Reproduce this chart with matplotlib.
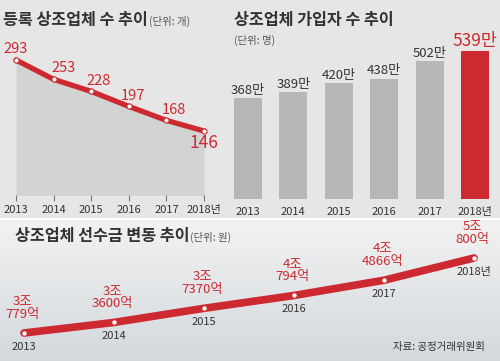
import numpy as np
import matplotlib
matplotlib.use('Agg')
import matplotlib.pyplot as plt

plt.rcParams['font.family'] = ['Noto Sans CJK KR', 'DejaVu Sans']

# data
years = ['2013', '2014', '2015', '2016', '2017', '2018년']
companies = [293, 253, 228, 197, 168, 146]
members = [368, 389, 420, 438, 502, 539]  # 만 명
prepaid = [30779, 33600, 37370, 40794, 44866, 50800]  # 억 원
prepaid_labels = ['3조\n779억', '3조\n3600억', '3조\n7370억', '4조\n794억', '4조\n4866억', '5조\n800억']

RED = '#cc2a30'
DARK = '#333333'
W, H = 500, 361


def px_axes(fig, x0, y0, x1, y1):
    # axes from pixel box (y measured from top)
    return fig.add_axes([x0 / W, 1 - y1 / H, (x1 - x0) / W, (y1 - y0) / H])


def title_with_unit(fig, x, y, title, unit):
    t = fig.text(x / W, 1 - y / H, title, fontsize=11.7, fontweight='bold',
                 color=DARK, va='center')
    fig.canvas.draw()
    x_end = t.get_window_extent().x1
    fig.text(x_end / W + 0.002, 1 - (y + 1) / H, unit, fontsize=7.5,
             color='#555555', va='center')


fig = plt.figure(figsize=(5, 3.61), dpi=100)

# background
bg = px_axes(fig, 0, 0, W, H)
grad = np.ones((H, 1, 3)) * np.array([0.905, 0.905, 0.905])
t = np.linspace(0, 1, H - 219)[:, None]
top_c = np.array([0.95, 0.95, 0.95])
bot_c = np.array([0.83, 0.85, 0.87])
grad[219:, 0, :] = top_c * (1 - t) + bot_c * t
bg.imshow(grad, aspect='auto', extent=[0, W, H, 0])
bg.plot([0, W], [218.5, 218.5], color='white', lw=1.5)
bg.set_xlim(0, W)
bg.set_ylim(H, 0)
bg.axis('off')

# top-left: registered companies
x = np.arange(6)
ax1 = px_axes(fig, 0, 45, 222, 195)
ax1.fill_between(x, companies, 0, color='#d3d3d3', lw=0)
ax1.plot(x, companies, color=RED, lw=3.8, solid_capstyle='round', zorder=3)
ax1.scatter(x, companies, s=14, color='white', edgecolor=RED, lw=0.8, zorder=4)
label_dx = [0, 0.27, 0.19, 0.11, 0.19]
for i, v in enumerate(companies):
    if i == 5:
        ax1.text(i, v - 7, str(v), color=RED, fontsize=12.5, ha='center', va='top')
    else:
        ax1.text(i + label_dx[i], v + 8, str(v), color=RED, fontsize=10.5,
                 ha='center', va='bottom')
ax1.set_xlim(-16 / 37.6, (222 - 16) / 37.6)
ax1.set_ylim(13.5, 13.5 + 150 / 0.483)
ax1.set_xticks(x)
ax1.set_xticklabels(years, fontsize=8, color=DARK)
ax1.tick_params(axis='x', length=4, color='#777777', width=0.8, pad=3)
ax1.set_yticks([])
for s in ax1.spines.values():
    s.set_visible(False)
ax1.patch.set_alpha(0)

# top-right: members
ax2 = px_axes(fig, 225, 45, 500, 199)
bar_colors = ['#b7b7b7'] * 5 + [RED]
ax2.bar(x, members, width=0.62, color=bar_colors)
for i, v in enumerate(members):
    if i == 5:
        ax2.text(i, v + 4, f'{v}만', color=RED, fontsize=12.5, ha='center', va='bottom')
    else:
        ax2.text(i, v + 4, f'{v}만', color=DARK, fontsize=9.5, ha='center', va='bottom')
ax2.set_xlim(-(248 - 225) / 45.4, (500 - 248) / 45.4)
ax2.set_ylim(0, 154 / 0.275)
ax2.set_xticks(x)
ax2.set_xticklabels(years, fontsize=8, color=DARK)
ax2.tick_params(axis='x', length=0, pad=6)
ax2.set_yticks([])
for s in ax2.spines.values():
    s.set_visible(False)
ax2.patch.set_alpha(0)

# bottom: prepaid amount
ax3 = px_axes(fig, 0, 222, 500, 361)
ax3.plot(x, prepaid, color=RED, lw=5.5, solid_capstyle='round', zorder=3)
ax3.scatter(x, prepaid, s=10, color='white', lw=0, zorder=4)
for i, v in enumerate(prepaid):
    ax3.text(i - 0.02, v + 3300, prepaid_labels[i], color=RED, fontsize=9.5,
             ha='center', va='bottom', linespacing=0.95)
    ax3.text(i, v - 2400, years[i], color=DARK, fontsize=8, ha='center', va='top')
ax3.set_xlim(-24 / 90, (500 - 24) / 90)
ax3.set_ylim(30779 - 28 / 0.003746, 30779 + 111 / 0.003746)
ax3.axis('off')

fig.text(485 / W, 1 - 347 / H, '자료: 공정거래위원회', fontsize=7.5, color=DARK,
         ha='right', va='center')

# titles
title_with_unit(fig, 3, 20, '등록 상조업체 수 추이', '(단위: 개)')
fig.text(234 / W, 1 - 20 / H, '상조업체 가입자 수 추이', fontsize=11.7, fontweight='bold',
         color=DARK, va='center')
fig.text(234 / W, 1 - 40 / H, '(단위: 명)', fontsize=7.5, color='#555555', va='center')
title_with_unit(fig, 15, 236, '상조업체 선수금 변동 추이', '(단위: 원)')

fig.savefig('out.png', dpi=100)
